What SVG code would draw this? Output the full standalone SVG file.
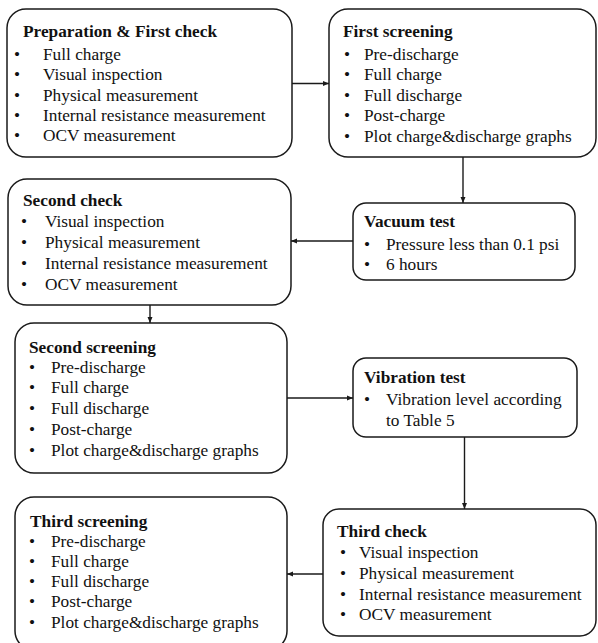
<svg xmlns="http://www.w3.org/2000/svg" width="598" height="643" viewBox="0 0 598 643">
<style>
.box{fill:#fff;stroke:#1a1a1a;stroke-width:1.5}
text{font-family:"Liberation Serif","Times New Roman",serif;font-size:17.3px;fill:#111}
.t{font-weight:bold}
.c{stroke:#1a1a1a;stroke-width:1.4;fill:none}
</style>
<defs>
<marker id="ah" markerUnits="userSpaceOnUse" markerWidth="7" markerHeight="6" refX="6" refY="3" orient="auto">
<path d="M0,0.5 L6,3 L0,5.5 z" fill="#1a1a1a"/>
</marker>
</defs>
<g id="connectors">
<line class="c" x1="292" y1="83.5" x2="329" y2="83.5" marker-end="url(#ah)"/>
<line class="c" x1="463" y1="157" x2="463" y2="203" marker-end="url(#ah)"/>
<line class="c" x1="353" y1="241" x2="291" y2="241" marker-end="url(#ah)"/>
<line class="c" x1="150" y1="305" x2="150" y2="323" marker-end="url(#ah)"/>
<line class="c" x1="287" y1="398" x2="353" y2="398" marker-end="url(#ah)"/>
<line class="c" x1="464.5" y1="437" x2="464.5" y2="509" marker-end="url(#ah)"/>
<line class="c" x1="323" y1="574" x2="287" y2="574" marker-end="url(#ah)"/>
</g>
<g id="prep">
<rect class="box" x="7" y="9" width="285" height="148" rx="19"/>
<text class="t" x="23" y="36.7">Preparation &amp; First check</text>
<text x="14" y="60">•</text><text x="43" y="60">Full charge</text>
<text x="14" y="80">•</text><text x="43" y="80">Visual inspection</text>
<text x="14" y="100.5">•</text><text x="43" y="100.5">Physical measurement</text>
<text x="14" y="120.7">•</text><text x="43" y="120.7">Internal resistance measurement</text>
<text x="14" y="141">•</text><text x="43" y="141">OCV measurement</text>
</g>
<g id="first-screening">
<rect class="box" x="329" y="9" width="267" height="148" rx="19"/>
<text class="t" x="343" y="36.7">First screening</text>
<text x="344" y="59.5">•</text><text x="364" y="59.5">Pre-discharge</text>
<text x="344" y="80">•</text><text x="364" y="80">Full charge</text>
<text x="344" y="100.5">•</text><text x="364" y="100.5">Full discharge</text>
<text x="344" y="120.7">•</text><text x="364" y="120.7">Post-charge</text>
<text x="344" y="141.5">•</text><text x="364" y="141.5">Plot charge&amp;discharge graphs</text>
</g>
<g id="vacuum">
<rect class="box" x="353" y="203" width="222" height="77" rx="13"/>
<text class="t" x="364" y="227">Vacuum test</text>
<text x="364" y="250">•</text><text x="386" y="250">Pressure less than 0.1 psi</text>
<text x="364" y="269.5">•</text><text x="386" y="269.5">6 hours</text>
</g>
<g id="second-check">
<rect class="box" x="8" y="179" width="283" height="126" rx="19"/>
<text class="t" x="23" y="206">Second check</text>
<text x="21" y="227">•</text><text x="45" y="227">Visual inspection</text>
<text x="21" y="248">•</text><text x="45" y="248">Physical measurement</text>
<text x="21" y="269">•</text><text x="45" y="269">Internal resistance measurement</text>
<text x="21" y="289.5">•</text><text x="45" y="289.5">OCV measurement</text>
</g>
<g id="second-screening">
<rect class="box" x="15" y="323" width="272" height="150" rx="19"/>
<text class="t" x="29" y="352.7">Second screening</text>
<text x="29" y="373">•</text><text x="51" y="373">Pre-discharge</text>
<text x="29" y="393.3">•</text><text x="51" y="393.3">Full charge</text>
<text x="29" y="413.5">•</text><text x="51" y="413.5">Full discharge</text>
<text x="29" y="435">•</text><text x="51" y="435">Post-charge</text>
<text x="29" y="456">•</text><text x="51" y="456">Plot charge&amp;discharge graphs</text>
</g>
<g id="vibration">
<rect class="box" x="353" y="358" width="224" height="79" rx="13"/>
<text class="t" x="364" y="382.7">Vibration test</text>
<text x="364" y="405">•</text><text x="386" y="405">Vibration level according</text>
<text x="386" y="426">to Table 5</text>
</g>
<g id="third-check">
<rect class="box" x="323" y="509" width="273" height="127" rx="16"/>
<text class="t" x="337" y="536.7">Third check</text>
<text x="340" y="558">•</text><text x="359" y="558">Visual inspection</text>
<text x="340" y="579">•</text><text x="359" y="579">Physical measurement</text>
<text x="340" y="599.5">•</text><text x="359" y="599.5">Internal resistance measurement</text>
<text x="340" y="620">•</text><text x="359" y="620">OCV measurement</text>
</g>
<g id="third-screening">
<rect class="box" x="15" y="497" width="272" height="153" rx="19"/>
<text class="t" x="30" y="526.7">Third screening</text>
<text x="29" y="546.7">•</text><text x="51" y="546.7">Pre-discharge</text>
<text x="29" y="566.5">•</text><text x="51" y="566.5">Full charge</text>
<text x="29" y="586.5">•</text><text x="51" y="586.5">Full discharge</text>
<text x="29" y="607">•</text><text x="51" y="607">Post-charge</text>
<text x="29" y="627.5">•</text><text x="51" y="627.5">Plot charge&amp;discharge graphs</text>
</g>
</svg>
